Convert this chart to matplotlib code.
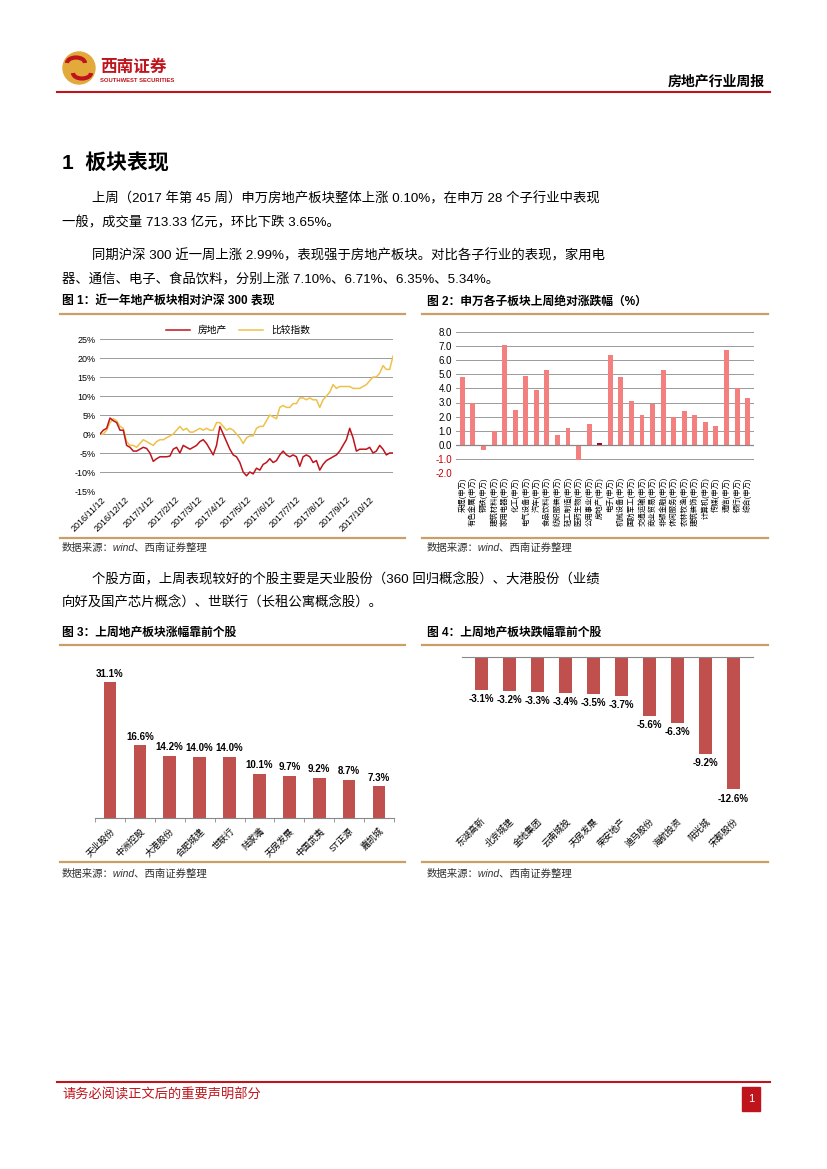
import matplotlib
matplotlib.use('Agg')
import matplotlib.pyplot as plt
import numpy as np
import pandas as pd
from matplotlib.patches import Circle, Rectangle, Arc
from matplotlib.ticker import FixedLocator

plt.rcParams['font.family'] = ['Liberation Sans', 'Noto Sans CJK SC', 'DejaVu Sans']

# 图1：相对沪深300表现（%），约每4天取一个点
fdc = [0, 1, 1.5, 4.2, 3.5, 3, 1, 1, -3, -3.5,
       -4.5, -4.5, -4, -3.5, -3.8, -5, -7.2, -6.5, -6, -6,
       -6, -5.8, -4, -3.5, -5, -3, -3.5, -4, -3.5, -3,
       -2, -1.5, -2.5, -4, -5.5, -3, 2, 0, -2, -4,
       -5.5, -6, -7.5, -10, -11, -10, -10.5, -9, -9.5, -8,
       -7.5, -6.5, -7.5, -7, -5.5, -4.5, -5.5, -6, -5.5, -6,
       -8.5, -6, -5.5, -6, -7.5, -7, -9.5, -8, -7, -6.5,
       -6, -5.5, -4.5, -3, -1.5, 1.5, -1, -4.5, -4, -4,
       -4, -3.5, -5, -4.5, -3, -4, -5.5, -5, -5]
bjzs = [0, 0, 1, 3, 4, 3.5, 2, 1.5, -2, -3,
        -3, -3.5, -2.5, -1.5, -2, -2.5, -3, -2, -1.5, -1.5,
        -1, -0.5, 0, 1, 2, 1, 1.5, 0.5, 0.5, 1,
        1.5, 1, 1.5, 1, 1, 3, 3, 2, 1, 1.5,
        1, 0, -1, -2.5, -1, -0.5, -0.5, 1.5, 2, 2,
        3.5, 5, 4.5, 4, 7, 7.5, 7, 7, 8, 8,
        9.5, 9.5, 9, 9.5, 9, 9, 7, 9, 10, 11,
        13, 12, 12.5, 12.5, 12.5, 12.5, 12, 12, 12, 12.5,
        13, 14, 15, 15, 16, 18, 17, 17, 20.5]
start_day = '2016-11-11'
end_day = '2017-11-10'

# 图2：申万子行业上周涨跌幅
hangye = ['采掘', '有色金属', '钢铁', '建筑材料', '家用电器', '化工', '电气设备', '汽车',
          '食品饮料', '纺织服装', '轻工制造', '医药生物', '公用事业', '房地产', '电子',
          '机械设备', '国防军工', '交通运输', '商业贸易', '非银金融', '休闲服务', '农林牧渔',
          '建筑装饰', '计算机', '传媒', '通信', '银行', '综合']
zhangdie = [4.8, 3.0, -0.4, 1.0, 7.1, 2.5, 4.9, 3.9, 5.34, 0.7, 1.2, -1.1, 1.5, 0.1, 6.35,
            4.8, 3.1, 2.1, 2.9, 5.3, 2.0, 2.4, 2.1, 1.6, 1.3, 6.71, 4.0, 3.3]

# 图3 / 图4：个股
top_names = ['天业股份', '中洲控股', '大港股份', '合肥城建', '世联行', '陆家嘴',
             '天房发展', '中国武夷', 'ST正源', '嘉凯城']
top_vals = [31.1, 16.6, 14.2, 14.0, 14.0, 10.1, 9.7, 9.2, 8.7, 7.3]
low_names = ['东湖高新', '北京城建', '金地集团', '云南城投', '天房发展', '荣安地产',
             '迪马股份', '海航投资', '阳光城', '宋都股份']
low_vals = [-3.1, -3.2, -3.3, -3.4, -3.5, -3.7, -5.6, -6.3, -9.2, -12.6]

RED = '#C0141C'
TAN = '#C9A063'
BAR = '#C0504D'
W, H = 827, 1169

fig = plt.figure(figsize=(8.27, 11.69), dpi=100)
page = fig.add_axes([0, 0, 1, 1])
page.set_xlim(0, W)
page.set_ylim(H, 0)
page.axis('off')


def ax_at(l, t, r, b):
    return fig.add_axes([l / W, 1 - b / H, (r - l) / W, (b - t) / H])


# 页眉
page.add_patch(Circle((79, 68), 16, color='#E2A93B', zorder=2))
page.add_patch(Arc((76, 63), 18, 11, theta1=180, theta2=360, color=RED, lw=3, zorder=3))
page.add_patch(Arc((82, 73), 18, 11, theta1=0, theta2=180, color=RED, lw=3, zorder=3))
page.text(100, 67, '西南证券', color=RED, fontsize=12, fontweight='bold', va='center',
          family=['Noto Sans CJK SC'])
page.text(100, 80, 'SOUTHWEST SECURITIES', color=RED, fontsize=4.2, fontweight='bold', va='center')
page.text(765, 82, '房地产行业周报', fontsize=10, fontweight='bold', ha='right', va='center')
page.plot([57, 770], [92, 92], color=RED, lw=1.5)

# 正文
page.text(62, 163, '1  板块表现', fontsize=15, fontweight='bold', va='center')
body = [
    (92, 199, '上周（2017 年第 45 周）申万房地产板块整体上涨 0.10%，在申万 28 个子行业中表现'),
    (62, 223, '一般，成交量 713.33 亿元，环比下跌 3.65%。'),
    (92, 256, '同期沪深 300 近一周上涨 2.99%，表现强于房地产板块。对比各子行业的表现，家用电'),
    (62, 280, '器、通信、电子、食品饮料，分别上涨 7.10%、6.71%、6.35%、5.34%。'),
    (92, 580, '个股方面，上周表现较好的个股主要是天业股份（360 回归概念股）、大港股份（业绩'),
    (62, 603, '向好及国产芯片概念）、世联行（长租公寓概念股）。'),
]
for x, y, s in body:
    page.text(x, y, s, fontsize=9.6, va='center')

# 图标题、框线、来源
for x, y, s in [(62, 302, '图 1：近一年地产板块相对沪深 300 表现'),
                (427, 302, '图 2：申万各子板块上周绝对涨跌幅（%）'),
                (62, 633, '图 3：上周地产板块涨幅靠前个股'),
                (427, 633, '图 4：上周地产板块跌幅靠前个股')]:
    page.text(x, y, s, fontsize=8.5, fontweight='bold', va='center')
for y in [314, 538, 645, 862]:
    page.plot([60, 405], [y, y], color=TAN, lw=1.6)
    page.plot([422, 768], [y, y], color=TAN, lw=1.6)
for y in [548, 874]:
    for x in [62, 427]:
        page.text(x, y, '数据来源：wind、西南证券整理', fontsize=7.5, style='italic', va='center',
                  color='#333333')

# 页脚
page.plot([57, 770], [1082, 1082], color=RED, lw=1.5)
page.text(62, 1095, '请务必阅读正文后的重要声明部分', color=RED, fontsize=9.5, va='center')
page.add_patch(Rectangle((742, 1087), 18, 24, color=RED))
page.text(751, 1099, '1', color='white', fontsize=8, ha='center', va='center')

# 图1
ax1 = ax_at(100, 339, 393, 491)
dates = pd.date_range(start_day, end_day, periods=len(fdc))
ax1.plot(dates, fdc, color='#C0141C', lw=1.1, label='房地产', zorder=3)
ax1.plot(dates, bjzs, color='#EFC14B', lw=1.1, label='比较指数', zorder=2)
ax1.set_ylim(-15, 25)
ax1.set_yticks(range(-15, 26, 5))
ax1.set_yticklabels([f'{v}%' for v in range(-15, 26, 5)], fontsize=6.5)
ax1.set_xlim(dates[0], dates[-1])
ticks = pd.date_range('2016-11-12', periods=12, freq=pd.DateOffset(months=1))
ax1.set_xticks(ticks)
ax1.set_xticklabels([f'{d.year}/{d.month}/{d.day}' for d in ticks], rotation=45, ha='right',
                    rotation_mode='anchor', fontsize=6.5)
ax1.grid(axis='y', color='#9a9a9a', lw=0.7)
ax1.set_axisbelow(True)
for s in ax1.spines.values():
    s.set_visible(False)
ax1.tick_params(length=0, pad=3)
ax1.legend(loc='upper center', bbox_to_anchor=(0.47, 1.15), ncol=2, frameon=False, fontsize=7,
           handlelength=2.5, columnspacing=1.2)

# 图2
ax2 = ax_at(456, 332, 754, 473)
xs = np.arange(len(hangye))
cols = ['#A50021' if n == '房地产' else '#F47F7F' for n in hangye]
ax2.bar(xs, zhangdie, width=0.47, color=cols, zorder=3)
ax2.set_ylim(-2, 8)
ax2.set_xlim(-0.6, len(hangye) - 0.4)
ax2.set_yticks(range(-2, 9))
ax2.set_yticklabels([f'{v:.1f}' for v in range(-2, 9)], fontsize=7)
for lab, v in zip(ax2.get_yticklabels(), range(-2, 9)):
    if v < 0:
        lab.set_color('#C00000')
ax2.grid(axis='y', color='#9a9a9a', lw=0.7)
ax2.axhline(0, color='#888888', lw=0.9, zorder=4)
ax2.set_axisbelow(True)
for s in ax2.spines.values():
    s.set_visible(False)
ax2.set_xticks(xs)
ax2.set_xticklabels([f'{n}(申万)' for n in hangye], rotation=90, fontsize=5.3, va='top')
ax2.tick_params(length=0, pad=3)

# 图3
ax3 = ax_at(95, 669, 394, 818)
xs3 = np.arange(len(top_names))
ax3.bar(xs3, top_vals, width=0.42, color=BAR)
for x, v in zip(xs3, top_vals):
    ax3.text(x, v + 0.8, f'{v:.1f}%', ha='center', va='bottom', fontsize=7, fontweight='bold')
ax3.set_ylim(0, 34.1)
ax3.set_xlim(-0.5, len(top_names) - 0.5)
ax3.set_yticks([])
for k in ['top', 'right', 'left']:
    ax3.spines[k].set_visible(False)
ax3.spines['bottom'].set_color('#888888')
ax3.set_xticks(xs3)
ax3.set_xticklabels(top_names, rotation=45, ha='right', rotation_mode='anchor', fontsize=6.5)
ax3.xaxis.set_minor_locator(FixedLocator(np.arange(-0.5, len(top_names), 1)))
ax3.tick_params(axis='x', which='major', length=0, pad=6)
ax3.tick_params(axis='x', which='minor', length=3, color='#888888')

# 图4
ax4 = ax_at(462, 657, 753, 804)
xs4 = np.arange(len(low_names))
ax4.bar(xs4, low_vals, width=0.45, color=BAR)
for x, v in zip(xs4, low_vals):
    ax4.text(x, v - 0.4, f'{v:.1f}%', ha='center', va='top', fontsize=7, fontweight='bold')
ax4.set_ylim(-14, 0)
ax4.set_xlim(-0.7, len(low_names) - 0.3)
ax4.set_yticks([])
for k in ['bottom', 'right', 'left']:
    ax4.spines[k].set_visible(False)
ax4.spines['top'].set_color('#888888')
ax4.set_xticks(xs4)
ax4.set_xticklabels(low_names, rotation=45, ha='right', rotation_mode='anchor', fontsize=6.5)
ax4.tick_params(axis='x', length=0, pad=9)

fig.savefig('out.png', dpi=100)
